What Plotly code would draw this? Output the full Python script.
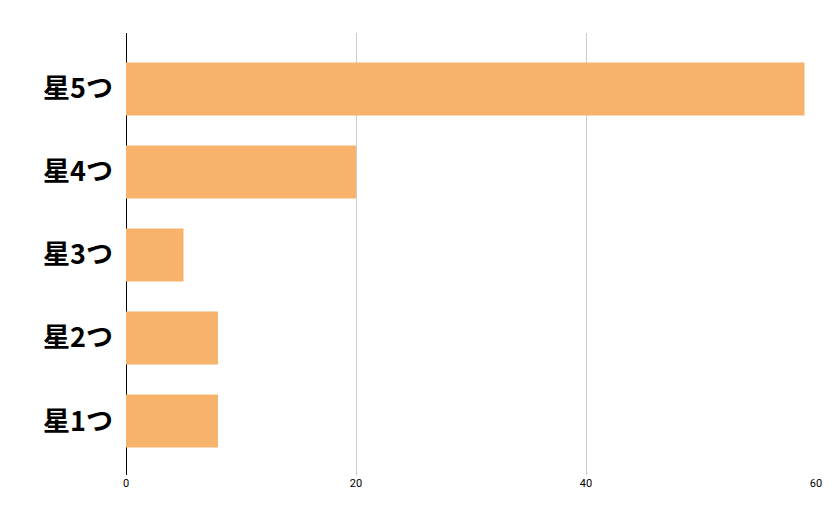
import plotly.graph_objects as go

categories = ["星1つ", "星2つ", "星3つ", "星4つ", "星5つ"]
values = [8, 8, 5, 20, 59]
x_ticks = [0, 20, 40, 60]

fig = go.Figure(go.Bar(
    x=values, y=categories, orientation="h",
    marker=dict(color="#F7B36C", line=dict(width=0)),
    width=0.64,
))
fig.update_layout(
    width=835, height=516,
    margin=dict(l=118, r=27, t=25, b=49),
    plot_bgcolor="white", paper_bgcolor="white",
    showlegend=False,
    font=dict(family="Roboto, Noto Sans CJK JP", color="black"),
)
fig.update_xaxes(range=[0, 60], tickvals=x_ticks, showgrid=True, gridcolor="#CCCCCC",
                 zeroline=True, zerolinecolor="black", zerolinewidth=1,
                 tickfont=dict(size=11, color="black"), ticks="")
fig.update_yaxes(range=[-0.65, 4.675], tickfont=dict(size=27, color="black",
                 family="Noto Sans CJK JP", weight="bold"), ticks="", ticklabelstandoff=12)
fig.write_html("out.html")
